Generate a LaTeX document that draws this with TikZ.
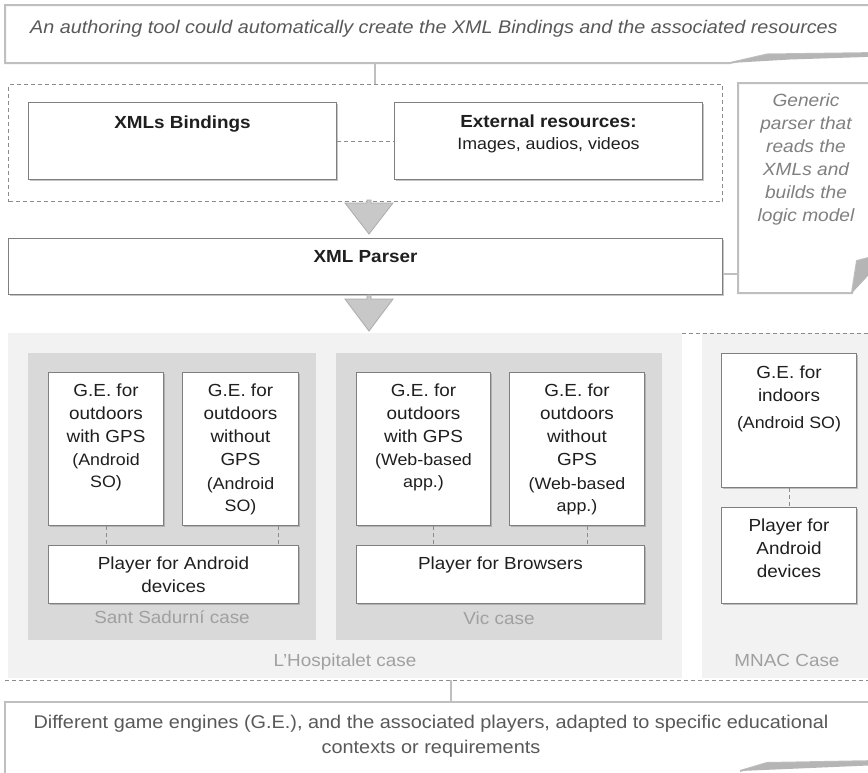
\documentclass[tikz,border=0pt]{standalone}
\usepackage{fontspec}
\setmainfont{Liberation Sans}[FakeStretch=1.08]
\usetikzlibrary{shadows}

\definecolor{boxline}{HTML}{7F7F7F}
\definecolor{noteline}{HTML}{BFBFBF}
\definecolor{paleband}{HTML}{F2F2F2}
\definecolor{darkband}{HTML}{D9D9D9}
\definecolor{dashline}{HTML}{8C8C8C}
\definecolor{arrowfill}{HTML}{C8C8C8}
\definecolor{arrowline}{HTML}{ABABAB}
\definecolor{inktext}{HTML}{1F1F1F}
\definecolor{memotext}{HTML}{595959}
\definecolor{softtext}{HTML}{808080}
\definecolor{casetext}{HTML}{A0A0A0}
\definecolor{foldfill}{HTML}{B5B5B5}

\newcommand\bodyfnt{\fontsize{17.5}{23}\selectfont}
\newcommand\parenfnt{\fontsize{16.5}{22}\selectfont}
\newcommand\memofnt{\fontsize{18.3}{23}\selectfont}
\newcommand\sidefnt{\fontsize{17.7}{23}\selectfont}
\newcommand\footfnt{\fontsize{18.4}{25}\selectfont}

\tikzset{
  box/.style={draw=boxline, line width=1pt, fill=white, inner sep=0pt, anchor=north west,
    drop shadow={shadow xshift=1.2pt, shadow yshift=-1.5pt, fill=black!45, opacity=.5}},
  wh/.style 2 args={minimum width=#1pt, minimum height=#2pt},
  band/.style={fill=paleband, inner sep=0pt, anchor=north west},
  deepband/.style={fill=darkband, inner sep=0pt, anchor=north west},
  txt/.style={anchor=north, inner sep=0pt, align=center, text=inktext, font=\bodyfnt},
  bold txt/.style={txt, font=\bodyfnt\bfseries},
  paren txt/.style={txt, font=\parenfnt},
  case txt/.style={anchor=base, inner sep=0pt, text=casetext, font=\bodyfnt},
  noteedge/.style={draw=noteline, line width=2pt},
  link/.style={draw=noteline, line width=2pt},
  dlink/.style={draw=dashline, line width=1pt, dash pattern=on 4pt off 3pt},
  groupframe/.style={draw=dashline, line width=1pt, dash pattern=on 4pt off 3pt,
    inner sep=0pt, anchor=north west},
  blockarrow/.style={fill=arrowfill, draw=arrowline, line width=.8pt, line join=miter},
}

\begin{document}
\begin{tikzpicture}[x=1pt, y=-1pt]
\useasboundingbox[fill=white] (0,0) rectangle (868,772);

% ---------- header note ----------
\fill[white] (5,5) rectangle (880,63);
\draw[noteedge] (880,5) -- (5,5) -- (5,63) -- (730,63) -- (767,54.5) -- (880,53);
\fill[foldfill] (730,63) -- (767,54.5) -- (880,53) -- (880,56.5) -- (790,59.5) -- cycle;
\node[anchor=base, inner sep=0pt, text=memotext, font=\memofnt\itshape] (topnote) at (434,33.6)
  {An authoring tool could automatically create the XML Bindings and the associated resources};

% ---------- bindings and resources ----------
\node[groupframe, wh={714}{117}] (grp) at (8,84) {};
\coordinate (topfoot) at (375,63);
\draw[link] (topfoot) -- (topfoot |- grp.north);

\node[box, wh={308}{77}] (xb) at (28,102) {};
\node[bold txt] (xbt) at ([yshift=-10pt]xb.north) {\strut XMLs Bindings};

\node[box, wh={308}{77}] (er) at (394,102) {};
\node[bold txt] (ert) at ([yshift=-9pt]er.north) {\strut External resources:};
\node[paren txt] (eri) at ([yshift=-31.6pt]er.north) {\strut Images, audios, videos};
\draw[dlink] (xb.east) -- (er.west);

% block arrow into the parser
\draw[blockarrow] (367,200) -- (371,200) -- (371,203) -- (393,203) -- (369,234)
  -- (345,203) -- (367,203) -- cycle;

% ---------- parser ----------
\node[box, wh={714}{56}] (xp) at (8,238) {};
\node[bold txt] (xpt) at ([yshift=-8.3pt]xp.north) {\strut XML Parser};

% side note on the parser
\fill[white] (738,83) rectangle (880,293);
\draw[noteedge] (880,83) -- (738,83) -- (738,293) -- (852,293) -- (857,261) -- (880,255);
\fill[foldfill] (852,293) -- (857,261) -- (880,255) -- (880,263) -- cycle;
\node[anchor=north, inner sep=0pt, align=center, text=softtext, font=\sidefnt\itshape]
  (gnote) at (806,90.1) {\strut Generic\\parser that\\reads the\\XMLs and\\builds the\\logic model};
\coordinate (gnin) at (738,274);
\draw[link] (xp.east |- gnin) -- (gnin);

% block arrow into the engines
\draw[blockarrow] (367,295) -- (371,295) -- (371,299) -- (393,299) -- (369,331)
  -- (345,299) -- (367,299) -- cycle;

% ---------- engines and players ----------
\node[band, wh={674}{345}] (hosp) at (8,333) {};
\node[band, wh={170}{345}] (mnac) at (702,333) {};
\draw[dlink] (682,333) -- (870,333);
\draw[dlink] (5,680) -- (870,680);

\node[deepband, wh={288}{287}] (sant) at (28,353) {};
\node[deepband, wh={326}{287}] (vic) at (336,353) {};

% Sant Sadurni
\node[box, wh={115}{153}] (g1) at (48,372) {};
\node[txt] (g1t) at ([yshift=-8pt]g1.north) {\strut G.E. for\\outdoors\\with GPS};
\node[paren txt] (g1p) at ([yshift=-78pt]g1.north) {\strut(Android\\SO)};
\node[box, wh={116}{153}] (g2) at (182,372) {};
\node[txt] (g2t) at ([yshift=-8pt]g2.north) {\strut G.E. for\\outdoors\\without\\GPS};
\node[paren txt] (g2p) at ([yshift=-101.6pt]g2.north) {\strut(Android\\SO)};
\node[box, wh={250}{58}] (pa) at (48,545) {};
\node[txt] (pat) at ([yshift=-8.3pt]pa.north) {\strut Player for Android\\devices};
\draw[dlink] (g1.south) -- (g1.south |- pa.north);
\draw[dlink] ([xshift=38pt]g2.south) -- ([xshift=38pt]g2.south |- pa.north);
\node[case txt] (santl) at (172,623.4) {Sant Sadurní case};

% Vic
\node[box, wh={134}{153}] (g3) at (356,372) {};
\node[txt] (g3t) at ([yshift=-8pt]g3.north) {\strut G.E. for\\outdoors\\with GPS};
\node[paren txt] (g3p) at ([yshift=-78pt]g3.north) {\strut(Web-based\\app.)};
\node[box, wh={135}{153}] (g4) at (509,372) {};
\node[txt] (g4t) at ([yshift=-8pt]g4.north) {\strut G.E. for\\outdoors\\without\\GPS};
\node[paren txt] (g4p) at ([yshift=-101.6pt]g4.north) {\strut(Web-based\\app.)};
\node[box, wh={288}{58}] (pb) at (356,545) {};
\node[txt] (pbt) at ([yshift=-8.3pt]pb.north) {\strut Player for Browsers};
\draw[dlink] ([xshift=10pt]g3.south) -- ([xshift=10pt]g3.south |- pb.north);
\draw[dlink] ([xshift=10pt]g4.south) -- ([xshift=10pt]g4.south |- pb.north);
\node[case txt] (vicl) at (499,624.4) {Vic case};

\node[case txt] (hospl) at (345,666.4) {L'Hospitalet case};

% MNAC
\node[box, wh={135}{134}] (g5) at (721,353) {};
\node[txt] (g5t) at ([yshift=-9.3pt]g5.north) {\strut G.E. for\\indoors};
\node[paren txt] (g5p) at ([yshift=-59.6pt]g5.north) {\strut(Android SO)};
\node[box, wh={135}{96}] (pc) at (721,507) {};
\node[txt] (pct) at ([yshift=-8.3pt]pc.north) {\strut Player for\\Android\\devices};
\draw[dlink] (g5.south) -- (pc.north);
\node[case txt] (mnacl) at (787,666.4) {MNAC Case};

% ---------- footer note ----------
\fill[white] (5,702) rectangle (880,780);
\draw[noteedge] (880,702) -- (5,702) -- (5,780);
\draw[noteedge] (740,771) -- (767,763) -- (880,761);
\fill[foldfill] (740,771) -- (767,763) -- (880,761) -- (880,765) -- cycle;
\node[anchor=north, inner sep=0pt, align=center, text=memotext, font=\footfnt]
  (foot) at (431,710.3) {\strut Different game engines (G.E.), and the associated players, adapted to specific educational\\contexts or requirements};
\coordinate (footline) at (451,680);
\coordinate (foottop) at (451,702);
\draw[link] (footline) -- (foottop);
\end{tikzpicture}
\end{document}
